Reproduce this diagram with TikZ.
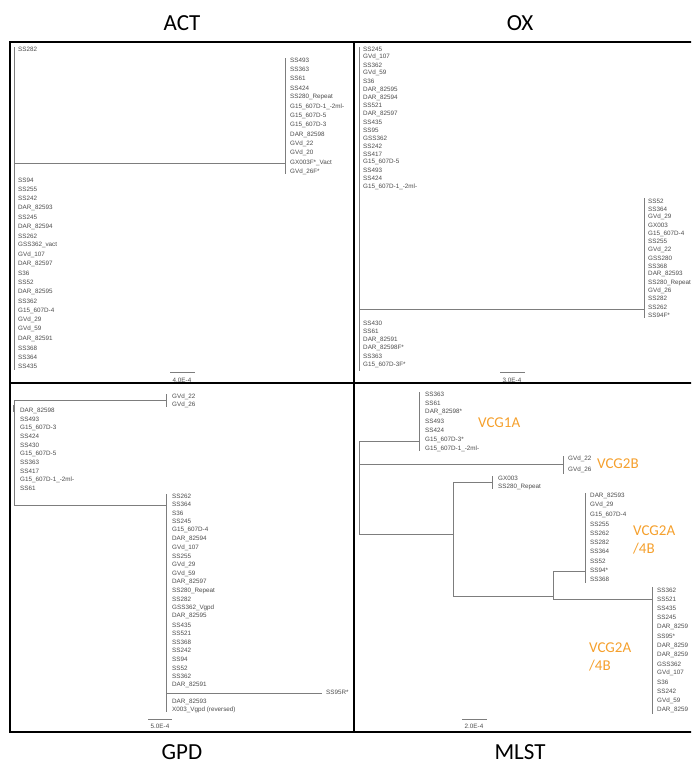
\documentclass[tikz,border=0pt]{standalone}
\usepackage{fontspec}
\setmainfont{Carlito}
\newfontfamily\leaffont{Liberation Sans}
\usepackage{xcolor}
\definecolor{treegray}{RGB}{125,125,125}
\definecolor{labelgray}{RGB}{75,75,75}
\definecolor{vcgorange}{RGB}{245,160,45}
\tikzset{
  leaf/.style={anchor=west, inner sep=0pt, text=labelgray,
               font=\leaffont\fontsize{6.3}{7}\selectfont},
  branch/.style={draw=treegray, line width=0.9pt},
  panelname/.style={inner sep=0pt, font=\fontsize{23}{27}\selectfont},
  vcg/.style={anchor=west, inner sep=0pt, text=vcgorange,
              font=\fontsize{15}{18}\selectfont},
  scalelbl/.style={inner sep=0pt, text=labelgray,
                   font=\leaffont\fontsize{6.3}{7}\selectfont},
}

\begin{document}
\begin{tikzpicture}[x=1pt, y=-1pt]
  \useasboundingbox (0,0) rectangle (692,764);
  \clip (0,0) rectangle (691,764);
  % quadro
  \draw[line width=1.1pt] (10,42) rectangle (700,732);
  \draw[line width=1.1pt] (354,42) -- (354,732);
  \draw[line width=1.1pt] (10,383) -- (700,383);
  % titulos
  \node[panelname] (act) at (182,23) {ACT};
  \node[panelname] (ox) at (520,23) {OX};
  \node[panelname] (gpd) at (182,752) {GPD};
  \node[panelname] (mlst) at (520,752) {MLST};

  % ACT
  \draw[branch] (14,47) -- (14,370);
  \draw[branch] (14,163) -- (285,163);
  \draw[branch] (285,58) -- (285,174);
  \node[leaf] (act-ss282) at (18,49) {SS282};
  \foreach \t [count=\i from 0] in {SS493, SS363, SS61, SS424, SS280\_Repeat,
      G15\_607D-1\_-2ml-, G15\_607D-5, G15\_607D-3, DAR\_82598, GVd\_22,
      GVd\_20, GX003F*\_Vact, GVd\_26F*}
    \node[leaf] (act-a\i) at (290,60+9.33*\i) {\t};
  \foreach \t [count=\i from 0] in {SS94, SS255, SS242, DAR\_82593, SS245,
      DAR\_82594, SS262, GSS362\_vact, GVd\_107, DAR\_82597, S36, SS52,
      DAR\_82595, SS362, G15\_607D-4, GVd\_29, GVd\_59, DAR\_82591, SS368,
      SS364, SS435}
    \node[leaf] (act-b\i) at (18,180+9.33*\i) {\t};
  \draw[branch] (170,372) -- (195,372);
  \node[scalelbl] (act-scale) at (182,380) {4.0E-4};

  % OX
  \draw[branch] (359,47) -- (359,371);
  \draw[branch] (359,309) -- (644,309);
  \draw[branch] (644,198) -- (644,318);
  \foreach \t [count=\i from 0] in {SS245, GVd\_107, SS362, GVd\_59, S36,
      DAR\_82595, DAR\_82594, SS521, DAR\_82597, SS435, SS95, GSS362, SS242,
      SS417, G15\_607D-5, SS493, SS424, G15\_607D-1\_-2ml-}
    \node[leaf] (ox-a\i) at (363,49+8.1*\i) {\t};
  \foreach \t [count=\i from 0] in {SS52, SS364, GVd\_29, GX003, G15\_607D-4,
      SS255, GVd\_22, GSS280, SS368, DAR\_82593, SS280\_Repeat, GVd\_26,
      SS282, SS262, SS94F*}
    \node[leaf] (ox-b\i) at (648,201+8.15*\i) {\t};
  \foreach \t [count=\i from 0] in {SS430, SS61, DAR\_82591, DAR\_82598F*,
      SS363, G15\_607D-3F*}
    \node[leaf] (ox-c\i) at (363,323+8.4*\i) {\t};
  \draw[branch] (500,372) -- (525,372);
  \node[scalelbl] (ox-scale) at (512,380) {3.0E-4};

  % GPD
  \draw[branch] (14,400) -- (14,505);
  \draw[branch] (14,400) -- (166,400);
  \draw[branch] (166,394) -- (166,407);
  \draw[treegray, line width=2pt] (14,405) -- (14,412);
  \node[leaf] (gpd-gvd22) at (172,397) {GVd\_22};
  \node[leaf] (gpd-gvd26) at (172,405) {GVd\_26};
  \foreach \t [count=\i from 0] in {DAR\_82598, SS493, G15\_607D-3, SS424,
      SS430, G15\_607D-5, SS363, SS417, G15\_607D-1\_-2ml-, SS61}
    \node[leaf] (gpd-a\i) at (20,411+8.55*\i) {\t};
  \draw[branch] (14,505) -- (166,505);
  \draw[branch] (166,494) -- (166,712);
  \foreach \t [count=\i from 0] in {SS262, SS364, S36, SS245, G15\_607D-4,
      DAR\_82594, GVd\_107, SS255, GVd\_29, GVd\_59, DAR\_82597, SS280\_Repeat,
      SS282, GSS362\_Vgpd, DAR\_82595, SS435, SS521, SS368, SS242, SS94, SS52,
      SS362, DAR\_82591}
    \node[leaf] (gpd-b\i) at (172,496+8.6*\i) {\t};
  \draw[branch] (166,693) -- (322,693);
  \node[leaf] (gpd-ss95r) at (326,692) {SS95R*};
  \node[leaf] (gpd-dar82593) at (172,702) {DAR\_82593};
  \node[leaf] (gpd-x003) at (172,710) {X003\_Vgpd (reversed)};
  \draw[branch] (148,719) -- (172,719);
  \node[scalelbl] (gpd-scale) at (160,726) {5.0E-4};

  % MLST
  \draw[branch] (359,441) -- (359,534);
  \draw[branch] (359,441) -- (419,441);
  \draw[branch] (419,392) -- (419,451);
  \foreach \t [count=\i from 0] in {SS363, SS61, DAR\_82598*, SS493, SS424,
      G15\_607D-3*, G15\_607D-1\_-2ml-}
    \node[leaf] (mlst-a\i) at (425,394+9.1*\i) {\t};
  \draw[branch] (359,464) -- (563,464);
  \draw[branch] (563,456) -- (563,474);
  \node[leaf] (mlst-gvd22) at (568,459) {GVd\_22};
  \node[leaf] (mlst-gvd26) at (568,470) {GVd\_26};
  \draw[branch] (359,534) -- (453,534);
  \draw[branch] (453,482) -- (453,596);
  \draw[branch] (453,482) -- (492,482);
  \draw[branch] (492,476) -- (492,489);
  \node[leaf] (mlst-gx003) at (498,478) {GX003};
  \node[leaf] (mlst-ss280) at (498,487) {SS280\_Repeat};
  \draw[branch] (453,596) -- (553,596);
  \draw[branch] (553,571) -- (553,599);
  \draw[branch] (553,571) -- (585,571);
  \draw[branch] (585,493) -- (585,583);
  \foreach \t [count=\i from 0] in {DAR\_82593, GVd\_29, G15\_607D-4, SS255,
      SS262, SS282, SS364, SS52, SS94*, SS368}
    \node[leaf] (mlst-b\i) at (590,496+9.3*\i) {\t};
  \draw[branch] (553,599) -- (652,599);
  \draw[branch] (652,587) -- (652,714);
  \foreach \t [count=\i from 0] in {SS362, SS521, SS435, SS245, DAR\_8259,
      SS95*, DAR\_8259, DAR\_8259, GSS362, GVd\_107, S36, SS242, GVd\_59,
      DAR\_8259}
    \node[leaf] (mlst-c\i) at (657,590+9.25*\i) {\t};
  \draw[branch] (462,719) -- (487,719);
  \node[scalelbl] (mlst-scale) at (474,726) {2.0E-4};
  % grupos VCG
  \node[vcg] (vcg1a) at (478,423) {VCG1A};
  \node[vcg] (vcg2b) at (597,464) {VCG2B};
  \node[vcg, align=left] (vcg2a-up) at (633,540) {VCG2A\\/4B};
  \node[vcg, align=left] (vcg2a-low) at (589,657) {VCG2A\\/4B};
\end{tikzpicture}
\end{document}
